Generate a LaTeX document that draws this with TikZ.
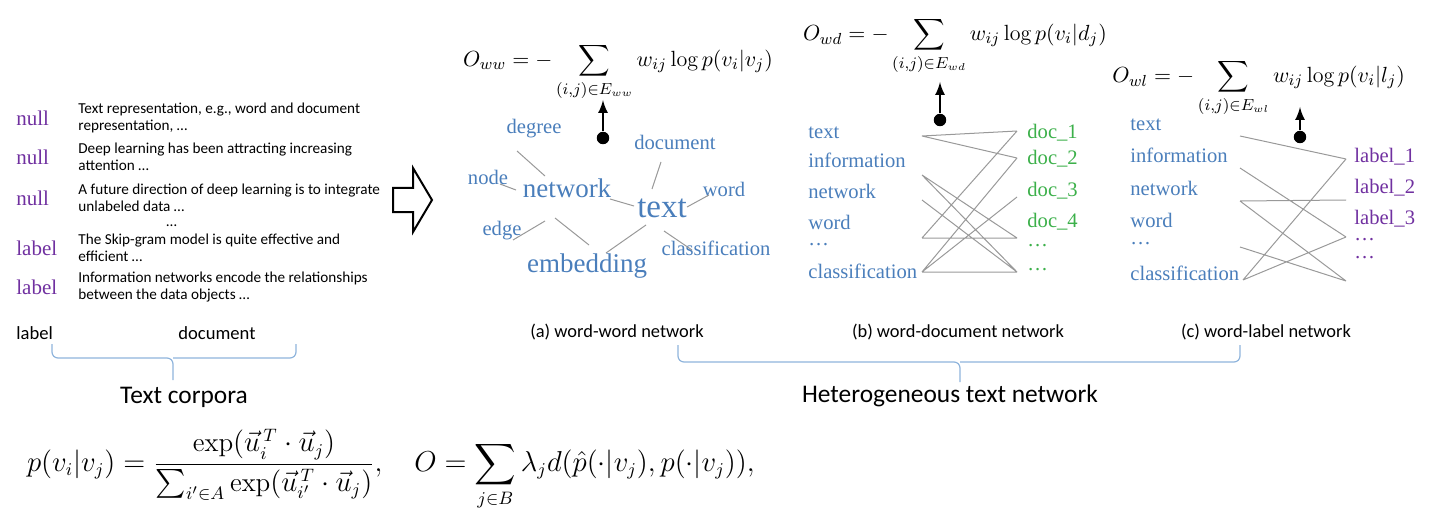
\documentclass[tikz,border=0pt]{standalone}
\usepackage{amsmath}
\usepackage{fontspec}
\setsansfont{Carlito}
\newfontfamily\wfont{Liberation Serif}
\begin{document}
\definecolor{wblue}{HTML}{4A7EBB}
\definecolor{wpurple}{HTML}{7030A0}
\definecolor{wgreen}{HTML}{3CB04A}
\definecolor{ebgray}{HTML}{999999}
\definecolor{brc}{HTML}{8FB4DC}
\begin{tikzpicture}[x=0.5pt,y=-0.5pt,
  tag/.style={font=\wfont\fontsize{10.5}{11}\selectfont,text=wpurple,anchor=west,inner sep=0},
  doc/.style={font=\sffamily\fontsize{7.6}{8.6}\selectfont,anchor=west,align=left,inner sep=0},
  w/.style={font=\wfont\fontsize{10.3}{11}\selectfont,text=wblue,inner sep=1pt},
  wl/.style={w,anchor=west},
  dl/.style={font=\wfont\fontsize{10.3}{11}\selectfont,text=wgreen,anchor=west,inner sep=0},
  ll/.style={font=\wfont\fontsize{10.3}{11}\selectfont,text=wpurple,anchor=west,inner sep=0},
  e/.style={ebgray,line width=0.5pt},
  captxt/.style={font=\sffamily\fontsize{9.2}{11}\selectfont},
  big/.style={font=\sffamily\fontsize{12.7}{15}\selectfont},
  br/.style={brc,line width=0.6pt,rounded corners=3pt},
  up/.style={-latex,line width=1.2pt}]
\useasboundingbox (0,0) rectangle (1452,524);
% left corpus
\foreach \y/\t/\d [count=\i] in {
 118/null/{Text representation, e.g., word and document\\representation, \dots},
 157/null/{Deep learning has been attracting increasing\\attention \dots},
 198/null/{A future direction of deep learning is to integrate\\unlabeled data \dots},
 248/label/{The Skip-gram model is quite effective and\\efficient \dots},
 287/label/{Information networks encode the relationships\\between the data objects \dots}}{
 \node[tag] (t\i) at (16,\y) {\t};
 \node[doc] (d\i) at (78,\y) {\d};}
\node[doc] (dots) at (166,226) {\dots};
\node[font=\sffamily\fontsize{9.3}{11}\selectfont,anchor=west,inner sep=0] (lab) at (16,333) {label};
\node[font=\sffamily\fontsize{9.3}{11}\selectfont,inner sep=0] (docl) at (217,333) {document};
\draw[br] (52,344) |- (173,358) -- (173,380);
\draw[br] (173,358) -| (296,344);
\node[big] (tc) at (184,397) {Text corpora};
% big hollow arrow
\draw[line width=1pt] (393,188)--(413,188)--(413,168)--(432,200)--(413,232)--(413,212)--(393,212)--cycle;
% word-word network
\node[w] (degree) at (534,129) {degree};
\node[w] (node) at (488,177) {node};
\node[w,font=\wfont\fontsize{13.5}{14}\selectfont] (network) at (567,188) {network};
\node[w] (edge) at (502,231) {edge};
\node[w,font=\wfont\fontsize{13.5}{14}\selectfont] (embedding) at (587,266) {embedding};
\node[w] (document) at (675,142) {document};
\node[w] (word) at (724,189) {word};
\node[w,font=\wfont\fontsize{16.5}{17}\selectfont] (text) at (662,208) {text};
\node[w] (classification) at (716,248) {classification};
\draw[e] (517,151)--(545,176);
\draw[e] (500,184)--(516,190);
\draw[e] (513,240)--(545,221);
\draw[e] (555,218)--(589,245);
\draw[e] (610,199)--(634,206);
\draw[e] (661,162)--(652,189);
\draw[e] (687,207)--(709,195);
\draw[e] (606,253)--(646,225);
\draw[e] (664,231)--(692,250);
\coordinate (aw) at (603,100);
\node[circle,fill,inner sep=2.2pt] (cw) at (603,138) {};
\draw[up] (cw) -- (aw);
\node[font=\fontsize{11}{13}\selectfont] (Oww) at (618,72) {$O_{ww}=-\displaystyle\sum_{(i,j)\in E_{ww}} w_{ij}\log p(v_i|v_j)$};
\node[captxt] (ca) at (617,332) {(a) word-word network};
% word-document network
\foreach \n/\t/\y in {a/text/133,b/information/160,c/network/191,d/word/222,f/\dots/245,g/classification/271}{
 \node[wl] (L\n) at (806,\y) {\t};}
\foreach \n/\t/\y in {1/doc\_1/133,2/doc\_2/159,3/doc\_3/191,4/doc\_4/222,5/\dots/246,6/\dots/270}{
 \node[dl] (D\n) at (1027,\y) {\t};}
\foreach \n/\y in {a/136,b/175,c/200,d/238,g/272}{\coordinate (p\n) at (922,\y);}
\foreach \n/\y in {1/131,2/158,3/197,4/238,6/272}{\coordinate (q\n) at (1017,\y);}
\draw[e] (pa)--(q1) (pa)--(q2) (pb)--(q4) (pb)--(q6) (pc)--(q6) (pd)--(q1) (pd)--(q4) (pg)--(q2) (pg)--(q3) (pg)--(q6);
\coordinate (ad) at (940,82);
\node[circle,fill,inner sep=2.2pt] (cd) at (940,120) {};
\draw[up] (cd) -- (ad);
\node[font=\fontsize{11}{13}\selectfont] (Owd) at (955,46) {$O_{wd}=-\displaystyle\sum_{(i,j)\in E_{wd}} w_{ij}\log p(v_i|d_j)$};
\node[captxt] (cb) at (958,332) {(b) word-document network};
% word-label network
\foreach \n/\t/\y in {a/text/125,b/information/155,c/network/188,d/word/220,f/\dots/244,g/classification/273}{
 \node[wl] (M\n) at (1128,\y) {\t};}
\foreach \n/\t/\y in {1/label\_1/157,2/label\_2/188,3/label\_3/219,5/\dots/240,6/\dots/258}{
 \node[ll] (B\n) at (1354,\y) {\t};}
\foreach \n/\y in {a/136,b/168,c/201,d/247}{\coordinate (r\n) at (1240,\y);}
\coordinate (rg) at (1243,280);
\foreach \n/\y in {1/159,2/200,3/237,6/281}{\coordinate (s\n) at (1346,\y);}
\draw[e] (ra)--(s1) (rb)--(s3) (rc)--(s2) (rc)--(s6) (rd)--(s6) (rg)--(s1) (rg)--(s3);
\coordinate (al) at (1300,107);
\node[circle,fill,inner sep=2.2pt] (cl) at (1300,137) {};
\draw[up] (cl) -- (al);
\node[font=\fontsize{11}{13}\selectfont,anchor=west,inner sep=0] (Owl) at (1112,88) {$O_{wl}=-\displaystyle\sum_{(i,j)\in E_{wl}} w_{ij}\log p(v_i|l_j)$};
\node[captxt] (cc) at (1266,332) {(c) word-label network};
% big brace
\draw[br] (678,345) |- (960,362) -- (960,382);
\draw[br] (960,362) -| (1240,345);
\node[big] (htn) at (950,396) {Heterogeneous text network};
% bottom formula
\node[font=\fontsize{13.5}{16}\selectfont,anchor=west] (pf) at (20,470) {$p(v_i|v_j)=\dfrac{\exp(\vec u_i^{\,T}\cdot\vec u_j)}{\sum_{i'\in A}\exp(\vec u_{i'}^{\,T}\cdot\vec u_j)},\quad O=\displaystyle\sum_{j\in B}\lambda_j d(\hat p(\cdot|v_j),p(\cdot|v_j)),$};
\end{tikzpicture}
\end{document}
